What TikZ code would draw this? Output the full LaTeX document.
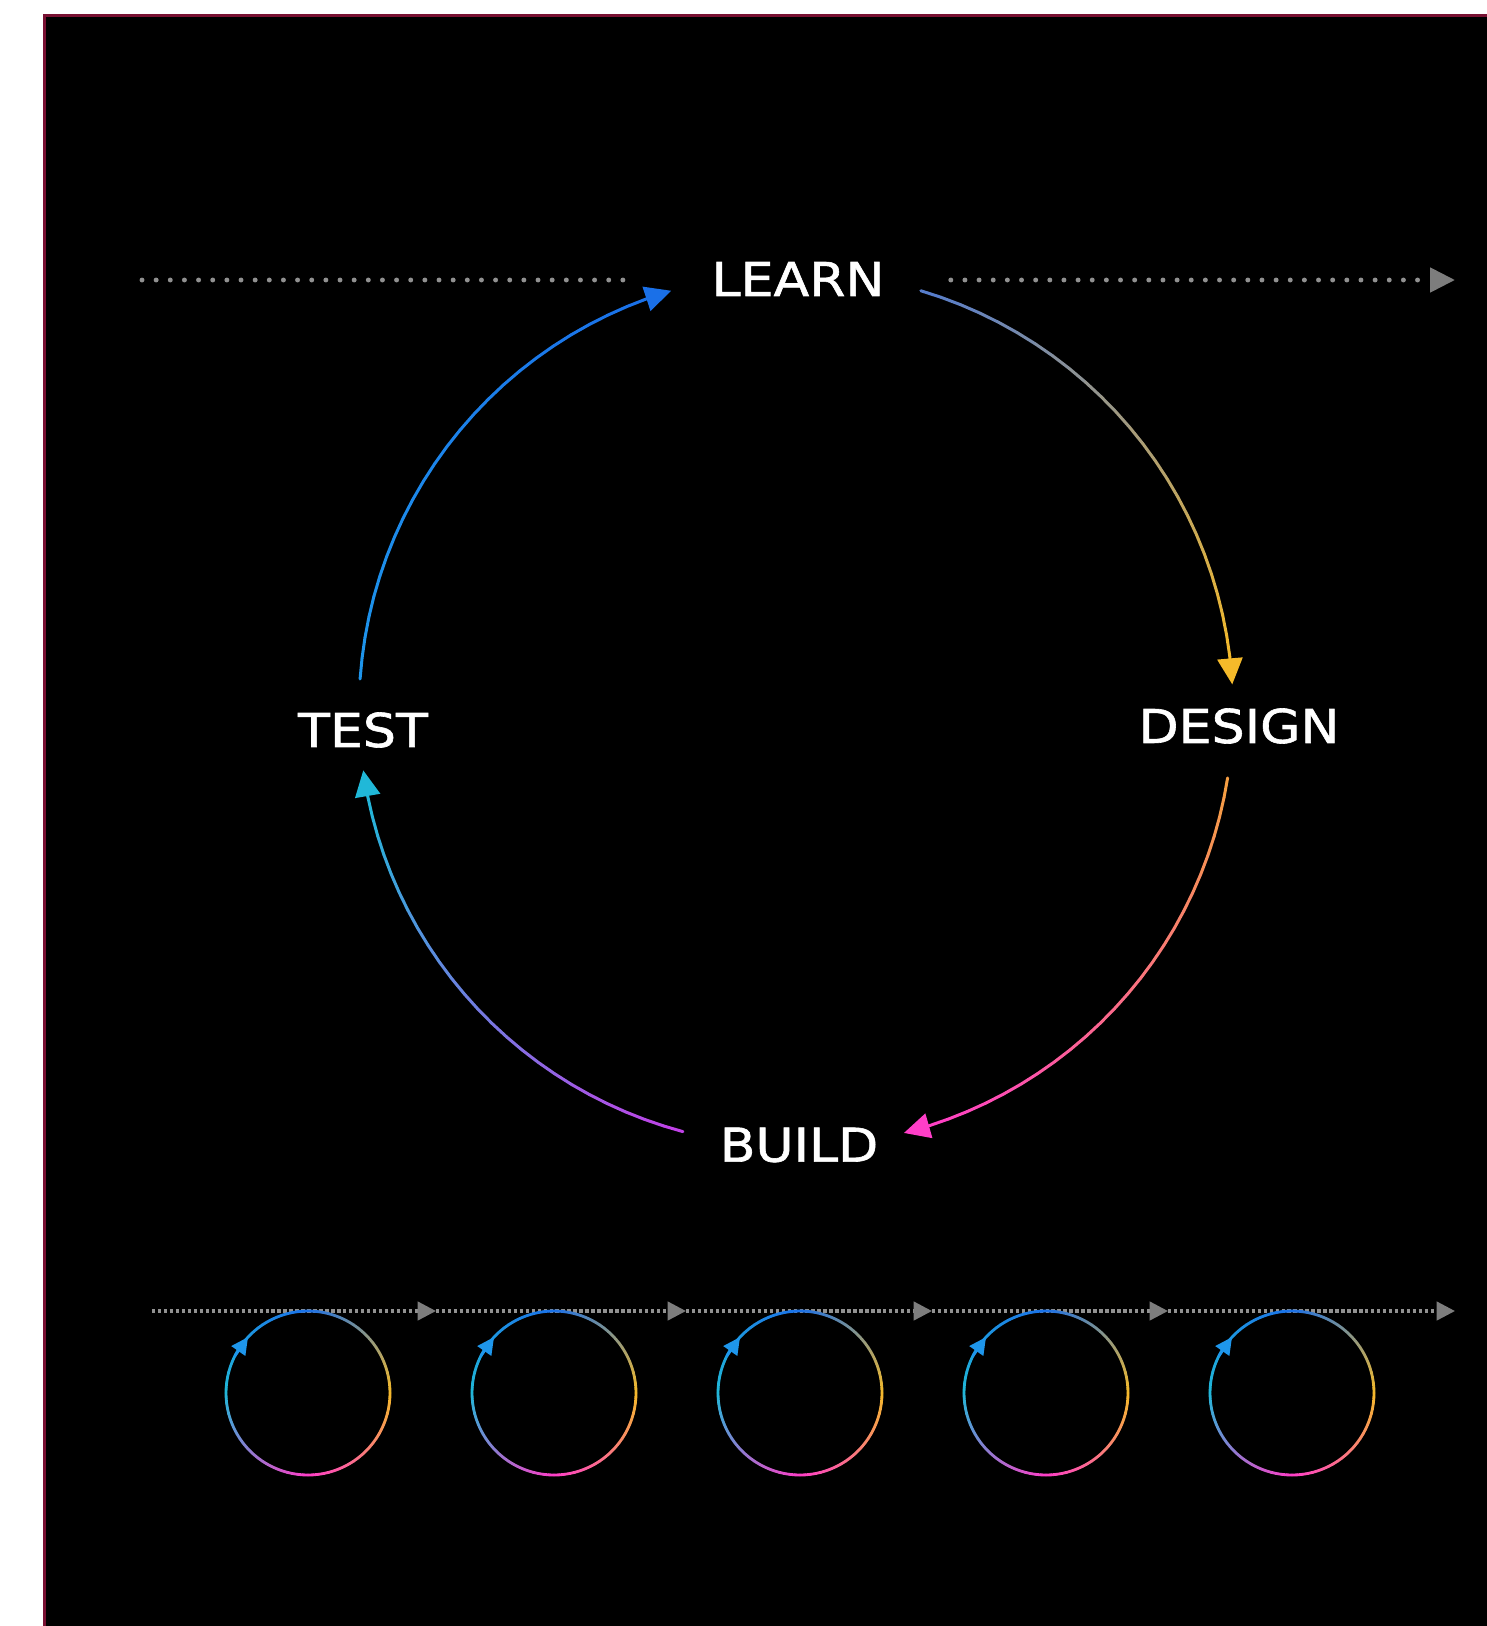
\documentclass[tikz,border=0pt]{standalone}
\usepackage{fontspec}
\newfontfamily\stagefont[FakeStretch=1.12, FakeBold=1.3]{DejaVu Sans}
\usetikzlibrary{arrows.meta,calc}

\definecolor{framered}{RGB}{120,16,50}
\definecolor{dotgray}{RGB}{145,145,145}
\definecolor{tipgray}{RGB}{125,125,125}
\definecolor{cycblue}{RGB}{26,112,232}
\definecolor{cycsteel}{RGB}{84,124,206}
\definecolor{cycgold}{RGB}{245,186,42}
\definecolor{cycorange}{RGB}{245,160,64}
\definecolor{cycpink}{RGB}{255,62,200}
\definecolor{cycviolet}{RGB}{196,64,232}
\definecolor{cyccyan}{RGB}{32,184,216}
\definecolor{cycsky}{RGB}{30,150,235}

\tikzset{
  stagelabel/.style={text=white, inner sep=0pt,
    font=\stagefont\fontsize{26.5}{30}\selectfont},
  ring/.style={line width=1.7pt, line cap=round},
  minring/.style={line width=1.6pt, line cap=round},
  bigtip/.style={-{Triangle[length=0.52cm, width=0.5cm]}},
  minitip/.style={-{Triangle[length=0.34cm, width=0.33cm]}},
  bigdots/.style={draw=dotgray, line width=2.8pt, line cap=round,
    dash pattern=on 0pt off 8.05pt},
  smalldots/.style={draw=dotgray, line width=1.9pt,
    dash pattern=on 1.9pt off 1.5pt},
  greytip/.style={-{Triangle[length=0.5cm, width=0.48cm, color=tipgray, fill=tipgray]}},
  smallgreytip/.style={-{Triangle[length=0.37cm, width=0.37cm, color=tipgray, fill=tipgray]}}
}

% arc of a ring, coloured from #6 to #7
\newcommand{\ringarc}[7][ring]{%
  \foreach \seg in {1,...,24}{
    \pgfmathsetmacro{\angA}{#4+(#5-#4)*(\seg-1)/24}
    \pgfmathsetmacro{\angB}{#4+(#5-#4)*\seg/24}
    \pgfmathtruncatemacro{\mixp}{100*(\seg-0.5)/24}
    \draw[#1, draw=#7!\mixp!#6] ($(#2)+(\angA:#3)$) -- ($(#2)+(\angB:#3)$);
  }}

\begin{document}
\begin{tikzpicture}[x=0.02cm, y=0.02cm]
  \useasboundingbox (0,0) rectangle (1487,-1626);
  \fill[white] (0,0) rectangle (1487,-1626);
  \fill[black] (43,-14) rectangle (1487,-1626);
  \draw[framered, line width=0.054cm] (44.3,-1626) -- (44.3,-15.3) -- (1487,-15.3);

  % big cycle
  \coordinate (hub) at (796,-709.5);
  \node[stagelabel] (learn) at (798,-279) {LEARN};
  \node[stagelabel] (design) at (1239,-726) {DESIGN};
  \node[stagelabel] (build) at (799,-1145) {BUILD};
  \node[stagelabel] (test) at (363,-730) {TEST};

  \coordinate (lin) at (142,-280);
  \coordinate (lout) at (1455,-280);
  \draw[bigdots] (lin) -- (learn.west |- lin) [shorten >=1.62cm];
  \draw[bigdots, greytip] (learn.east |- lout) -- (lout) [shorten <=1.32cm];

  \ringarc{hub}{437}{73.4}{7}{cycsteel}{cycgold}
  \draw[ring, cycgold, bigtip] ($(hub)+(7:437)$) -- ($(hub)+(3.3:437)$);
  \ringarc{hub}{437}{-9}{-72.2}{cycorange}{cycpink}
  \draw[ring, cycpink, bigtip] ($(hub)+(-72.2:437)$) -- ($(hub)+(-75.7:437)$);
  \ringarc{hub}{437}{-105}{-168.5}{cycviolet}{cyccyan}
  \draw[ring, cyccyan, bigtip] ($(hub)+(-168.5:437)$) -- ($(hub)+(-172:437)$);
  \ringarc{hub}{437}{176}{110}{cycsky}{cycblue}
  \draw[ring, cycblue, bigtip] ($(hub)+(110:437)$) -- ($(hub)+(106.6:437)$);

  % small cycles along the line
  \foreach \n/\x in {0/152,1/436,2/686,3/932,4/1168,5/1455}
    \coordinate (s\n) at (\x,-1311);
  \foreach \a/\b in {s0/s1,s1/s2,s2/s3,s3/s4,s4/s5}
    \draw[smalldots, smallgreytip] (\a) -- (\b);
  \foreach \cx [count=\i] in {308,554,800,1046,1292}{
    \coordinate (mini\i) at (\cx,-1393);
    \ringarc[minring]{mini\i}{82}{90}{0}{cycblue}{cycgold}
    \ringarc[minring]{mini\i}{82}{0}{-90}{cycgold}{cycpink}
    \ringarc[minring]{mini\i}{82}{-90}{-180}{cycpink}{cyccyan}
    \ringarc[minring]{mini\i}{82}{180}{90}{cyccyan}{cycblue}
    \draw[minring, cycsky, minitip] ($(mini\i)+(153:82)$) -- ($(mini\i)+(137:82)$);
  }
\end{tikzpicture}
\end{document}
